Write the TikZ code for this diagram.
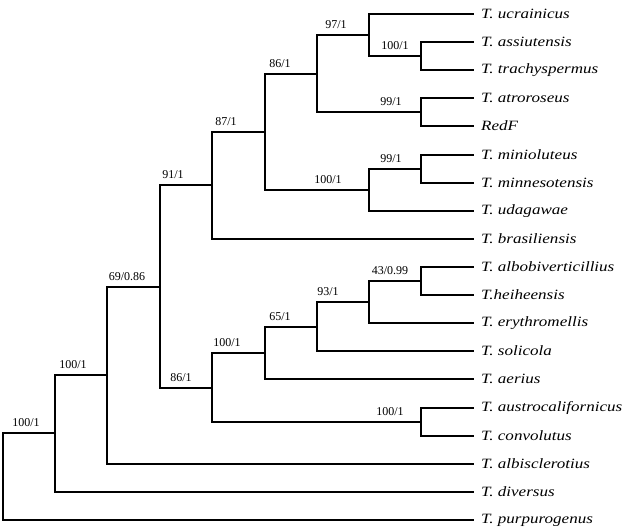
\documentclass[tikz,border=0pt]{standalone}
\usepackage{fontspec}
\setmainfont{Liberation Serif}
\newfontfamily\leaffont[FakeStretch=1.2]{Liberation Serif}
\begin{document}
\begin{tikzpicture}[x=1pt,y=-1pt,
  br/.style={line width=2pt,line join=miter,line cap=rect},
  leaf/.style={anchor=west,inner sep=0pt,xshift=8pt,font=\leaffont\itshape\fontsize{14.2}{16}\selectfont},
  bs/.style={anchor=base,inner sep=0pt,font=\fontsize{12}{14}\selectfont}]
\useasboundingbox (0,0) rectangle (637,531);
% leaves
\coordinate (t1) at (473,14);
\coordinate (t2) at (473,42);
\coordinate (t3) at (473,70);
\coordinate (t4) at (473,98);
\coordinate (t5) at (473,126);
\coordinate (t6) at (473,155);
\coordinate (t7) at (473,183);
\coordinate (t8) at (473,211);
\coordinate (t9) at (473,239);
\coordinate (t10) at (473,267);
\coordinate (t11) at (473,295);
\coordinate (t12) at (473,323);
\coordinate (t13) at (473,351);
\coordinate (t14) at (473,379);
\coordinate (t15) at (473,408);
\coordinate (t16) at (473,436);
\coordinate (t17) at (473,464);
\coordinate (t18) at (473,492);
\coordinate (t19) at (473,520);
\node[leaf] (l1) at (t1) {T. ucrainicus};
\node[leaf] (l2) at (t2) {T. assiutensis};
\node[leaf] (l3) at (t3) {T. trachyspermus};
\node[leaf] (l4) at (t4) {T. atroroseus};
\node[leaf] (l5) at (t5) {RedF};
\node[leaf] (l6) at (t6) {T. minioluteus};
\node[leaf] (l7) at (t7) {T. minnesotensis};
\node[leaf] (l8) at (t8) {T. udagawae};
\node[leaf] (l9) at (t9) {T. brasiliensis};
\node[leaf] (l10) at (t10) {T. albobiverticillius};
\node[leaf] (l11) at (t11) {T.heiheensis};
\node[leaf] (l12) at (t12) {T. erythromellis};
\node[leaf] (l13) at (t13) {T. solicola};
\node[leaf] (l14) at (t14) {T. aerius};
\node[leaf] (l15) at (t15) {T. austrocalifornicus};
\node[leaf] (l16) at (t16) {T. convolutus};
\node[leaf] (l17) at (t17) {T. albisclerotius};
\node[leaf] (l18) at (t18) {T. diversus};
\node[leaf] (l19) at (t19) {T. purpurogenus};
% internal nodes
\coordinate (K) at (421,56);
\coordinate (F) at (369,35);
\coordinate (J) at (421,112);
\coordinate (G) at (317,74);
\coordinate (L) at (421,169);
\coordinate (I) at (369,190);
\coordinate (E) at (265,132);
\coordinate (D) at (212,185);
\coordinate (Q) at (421,281);
\coordinate (P) at (369,302);
\coordinate (O) at (317,327);
\coordinate (M) at (265,353);
\coordinate (N) at (421,422);
\coordinate (H) at (212,388);
\coordinate (C) at (160,287);
\coordinate (B) at (107,375);
\coordinate (A) at (55,433);
\coordinate (R) at (3,476);
% branches
\draw[br] (t2) -| (K) |- (t3);
\draw[br] (t1) -| (F) |- (K);
\draw[br] (t4) -| (J) |- (t5);
\draw[br] (F) -| (G) |- (J);
\draw[br] (t6) -| (L) |- (t7);
\draw[br] (L) -| (I) |- (t8);
\draw[br] (G) -| (E) |- (I);
\draw[br] (E) -| (D) |- (t9);
\draw[br] (t10) -| (Q) |- (t11);
\draw[br] (Q) -| (P) |- (t12);
\draw[br] (P) -| (O) |- (t13);
\draw[br] (O) -| (M) |- (t14);
\draw[br] (t15) -| (N) |- (t16);
\draw[br] (M) -| (H) |- (N);
\draw[br] (D) -| (C) |- (H);
\draw[br] (C) -| (B) |- (t17);
\draw[br] (B) -| (A) |- (t18);
\draw[br] (A) -| (R) |- (t19);
% support values
\node[bs] (bA) at (26,426) {100/1};
\node[bs] (bB) at (73,368) {100/1};
\node[bs] (bC) at (127,280) {69/0.86};
\node[bs] (bD) at (173,178) {91/1};
\node[bs] (bE) at (226,125) {87/1};
\node[bs] (bG) at (280,67) {86/1};
\node[bs] (bF) at (336,28) {97/1};
\node[bs] (bK) at (395,49) {100/1};
\node[bs] (bJ) at (391,105) {99/1};
\node[bs] (bI) at (328,183) {100/1};
\node[bs] (bL) at (391,162) {99/1};
\node[bs] (bH) at (181,381) {86/1};
\node[bs] (bM) at (227,346) {100/1};
\node[bs] (bO) at (280,320) {65/1};
\node[bs] (bP) at (328,295) {93/1};
\node[bs] (bQ) at (390,274) {43/0.99};
\node[bs] (bN) at (390,415) {100/1};
\end{tikzpicture}
\end{document}
